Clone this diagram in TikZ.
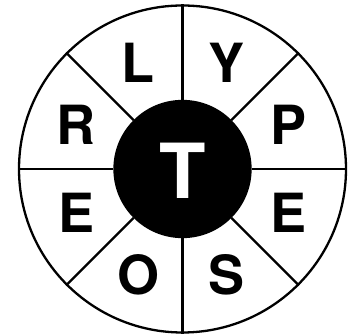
\documentclass[tikz,border=0pt]{standalone}
\usepackage{fontspec}
\setsansfont{TeX Gyre Heros}
\usetikzlibrary{positioning}

\begin{document}
\begin{tikzpicture}[
x=1pt, y=1pt,
ring/.style={circle, draw, line width=2.3pt, inner sep=0pt},
spoke/.style={line width=2.3pt},
letter/.style={font=\sffamily\bfseries\fontsize{54}{54}\selectfont, inner sep=0pt}
]
\useasboundingbox (-182.5,-167) rectangle (173.5,169);

\node[ring, minimum size=327pt] (rim) at (0,0) {};
\node[ring, fill=black, minimum size=136pt] (hub) at (0,0) {};
\node[letter, text=white, font=\sffamily\bfseries\fontsize{76}{76}\selectfont] (centre) at (0,-2) {T};

% spokes between the hub and the rim
\foreach \a in {0,45,...,315}
  \draw[spoke] (hub.\a) -- (rim.\a);

% letters round the wheel
\foreach \ch [count=\i] in {Y,L,R,E,O,S,E,P}
  \node[letter] (letter\i) at ({22.5+45*\i}:115) {\ch};

\end{tikzpicture}
\end{document}
